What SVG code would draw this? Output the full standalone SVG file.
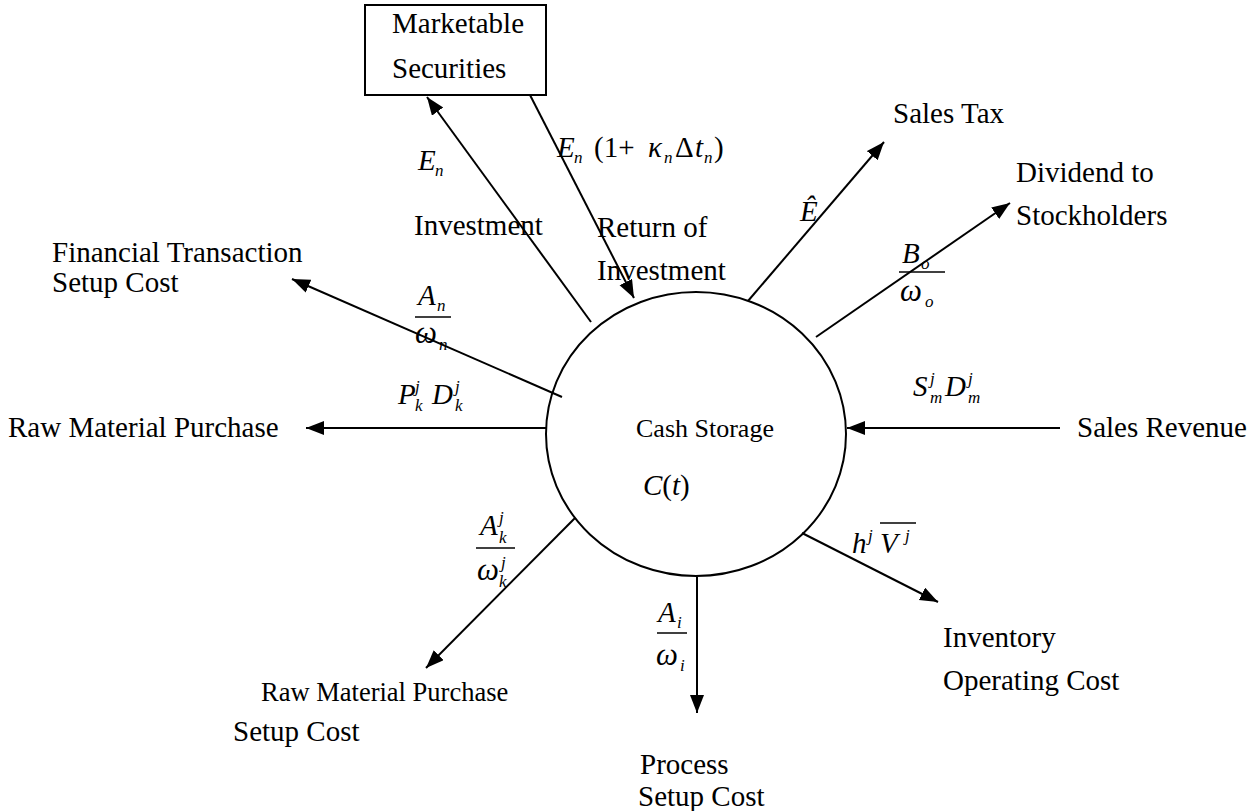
<svg xmlns="http://www.w3.org/2000/svg" width="1257" height="811" viewBox="0 0 1257 811">
<defs>
<marker id="arr" markerUnits="userSpaceOnUse" markerWidth="20" markerHeight="16" refX="18" refY="7" orient="auto">
<path d="M0,0 L18,7 L0,14 Z" fill="#000"/>
</marker>
<style>
text{font-family:"Liberation Serif","Times New Roman",serif;font-size:29px;fill:#000}
.m{font-style:italic}
.s{font-style:italic;font-size:17px}
.w{font-style:italic;font-size:31px}
.ln{stroke:#000;stroke-width:2;fill:none}
.fr{stroke:#000;stroke-width:1.5}
</style>
</defs>
<rect width="1257" height="811" fill="#fff"/>
<g id="cash-storage">
<ellipse class="ln" cx="696" cy="434" rx="150" ry="142"/>
<text x="636" y="437" style="font-size:26px">Cash Storage</text>
<text class="m" x="643" y="495">C<tspan font-style="normal">(</tspan>t<tspan font-style="normal">)</tspan></text>
</g>
<g id="marketable-securities">
<rect x="365" y="5" width="181" height="90" fill="none" stroke="#000" stroke-width="2"/>
<text x="392" y="33">Marketable</text>
<text x="392" y="78">Securities</text>
</g>
<g id="sales-tax"><text x="893" y="123">Sales Tax</text></g>
<g id="dividend"><text x="1016" y="182">Dividend to</text><text x="1016" y="225">Stockholders</text></g>
<g id="financial-transaction"><text x="52" y="262">Financial Transaction</text><text x="52" y="292">Setup Cost</text></g>
<g id="raw-material-purchase"><text x="8" y="437">Raw Material Purchase</text></g>
<g id="sales-revenue"><text x="1077" y="437">Sales Revenue</text></g>
<g id="inventory"><text x="943" y="647">Inventory</text><text x="943" y="690">Operating Cost</text></g>
<g id="rm-setup"><text x="261" y="701" style="font-size:26.5px">Raw Material Purchase</text><text x="233" y="741">Setup Cost</text></g>
<g id="process-setup"><text x="640" y="774">Process</text><text x="638" y="806">Setup Cost</text></g>
<g id="connectors">
<line class="ln" x1="591" y1="322" x2="427" y2="97" marker-end="url(#arr)"/>
<line class="ln" x1="530" y1="95" x2="634" y2="298" marker-end="url(#arr)"/>
<line class="ln" x1="748" y1="301" x2="884" y2="142" marker-end="url(#arr)"/>
<line class="ln" x1="816" y1="337" x2="1010" y2="203" marker-end="url(#arr)"/>
<line class="ln" x1="1060" y1="428" x2="847" y2="428" marker-end="url(#arr)"/>
<line class="ln" x1="802" y1="533" x2="938" y2="602" marker-end="url(#arr)"/>
<line class="ln" x1="697" y1="577" x2="697" y2="713" marker-end="url(#arr)"/>
<line class="ln" x1="575" y1="518" x2="426" y2="668" marker-end="url(#arr)"/>
<line class="ln" x1="546" y1="428" x2="306" y2="428" marker-end="url(#arr)"/>
<line class="ln" x1="562" y1="397" x2="292" y2="279" marker-end="url(#arr)"/>
</g>
<g id="labels">
<text x="414" y="235">Investment</text>
<text x="597" y="237">Return of</text>
<text x="597" y="280">Investment</text>
<text class="m" x="418" y="170">E</text><text class="s" x="435" y="176">n</text>
<text class="m" x="557" y="157">E</text><text class="s" x="574" y="163">n</text>
<text x="594" y="157">(1+</text><text class="m" x="648" y="157">κ</text><text class="s" x="664" y="163">n</text>
<text x="675" y="157">Δ</text><text class="m" x="695" y="157">t</text><text class="s" x="704" y="163">n</text><text x="714" y="157">)</text>
<text class="m" x="800" y="221">Ê</text>
<text class="m" x="902" y="263">B</text><text class="s" x="921" y="269">o</text>
<line class="fr" x1="899" y1="272" x2="945" y2="272"/>
<text class="w" x="900" y="301">ω</text><text class="s" x="925" y="307">o</text>
<text class="m" x="418" y="305">A</text><text class="s" x="437" y="311">n</text>
<line class="fr" x1="415" y1="317" x2="451" y2="317"/>
<text class="w" x="415" y="343">ω</text><text class="s" x="439" y="350">n</text>
<text class="m" x="398" y="404">P</text><text class="s" x="415" y="392">j</text><text class="s" x="415" y="411">k</text>
<text class="m" x="432" y="404">D</text><text class="s" x="455" y="392">j</text><text class="s" x="455" y="411">k</text>
<text class="m" x="913" y="396">S</text><text class="s" x="930" y="384">j</text><text class="s" x="930" y="403">m</text>
<text class="m" x="945" y="396">D</text><text class="s" x="968" y="384">j</text><text class="s" x="968" y="403">m</text>
<text class="m" x="480" y="535">A</text><text class="s" x="499" y="523">j</text><text class="s" x="499" y="543">k</text>
<line class="fr" x1="476" y1="548" x2="515" y2="548"/>
<text class="w" x="477" y="580">ω</text><text class="s" x="501" y="568">j</text><text class="s" x="499" y="587">k</text>
<text class="m" x="852" y="553">h</text><text class="s" x="868" y="541">j</text>
<text class="m" x="880" y="553">V</text><text class="s" x="905" y="541">j</text>
<line class="fr" x1="880" y1="523" x2="916" y2="523"/>
<text class="m" x="658" y="622">A</text><text class="s" x="677" y="628">i</text>
<line class="fr" x1="657" y1="633" x2="687" y2="633"/>
<text class="w" x="656" y="665">ω</text><text class="s" x="680" y="671">i</text>
</g>
</svg>
